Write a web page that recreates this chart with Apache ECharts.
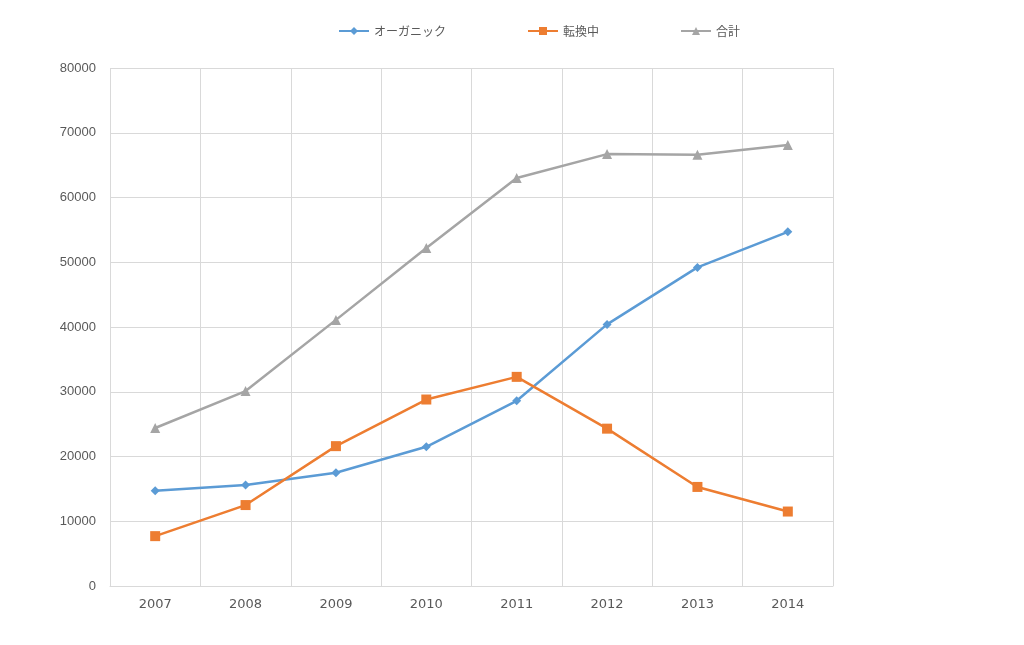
<!DOCTYPE html>
<html><head><meta charset="utf-8">
<script src="https://cdn.jsdelivr.net/npm/echarts@6/dist/echarts.min.js"></script>
<style>html,body{margin:0;padding:0;background:#fff}#c{width:1024px;height:645px}</style>
</head><body><div id="c"></div>
<script>
const years = ['2007','2008','2009','2010','2011','2012','2013','2014'];
const organic = [14700, 15600, 17500, 21500, 28600, 40400, 49200, 54700];
const conversion = [7700, 12500, 21600, 28800, 32300, 24300, 15300, 11500];
const total = [24400, 30100, 41100, 52200, 63000, 66700, 66600, 68100];
const names = ['オーガニック', '転換中', '合計'];

const chart = echarts.init(document.getElementById('c'));
const font = '"Noto Sans CJK JP", "Noto Sans", sans-serif';
function s(name, data, color, symbol, size) {
  return {name, type:'line', data, symbol, symbolSize:size, showSymbol:true,
    lineStyle:{color, width:2.5}, itemStyle:{color}, color, z: 3};
}
chart.setOption({
  animation:false,
  textStyle:{fontFamily:font},
  legend:{top:20, left:333, itemGap:81, itemWidth:30, itemHeight:10,
    textStyle:{color:'#595959', fontSize:12, fontFamily:font}, data:names},
  grid:{left:110, right:191, top:68, bottom:59},
  xAxis:{type:'category', data:years, boundaryGap:true,
    axisLine:{lineStyle:{color:'#d9d9d9'}}, axisTick:{show:false},
    axisLabel:{color:'#595959', fontSize:13, margin:12, fontFamily:'"DejaVu Sans", sans-serif'},
    splitLine:{show:true, lineStyle:{color:'#d9d9d9'}}},
  yAxis:{type:'value', min:0, max:80000, interval:10000,
    axisLine:{show:false}, axisTick:{show:false},
    axisLabel:{color:'#595959', fontSize:13, margin:14, fontFamily:'"Liberation Sans", sans-serif',
      formatter: v => String(v)},
    splitLine:{lineStyle:{color:'#d9d9d9'}}},
  series:[
    s(names[0], organic, '#5b9bd5', 'diamond', 9),
    s(names[1], conversion, '#ed7d31', 'rect', 10),
    s(names[2], total, '#a5a5a5', 'triangle', 10)
  ]
});
</script></body></html>
